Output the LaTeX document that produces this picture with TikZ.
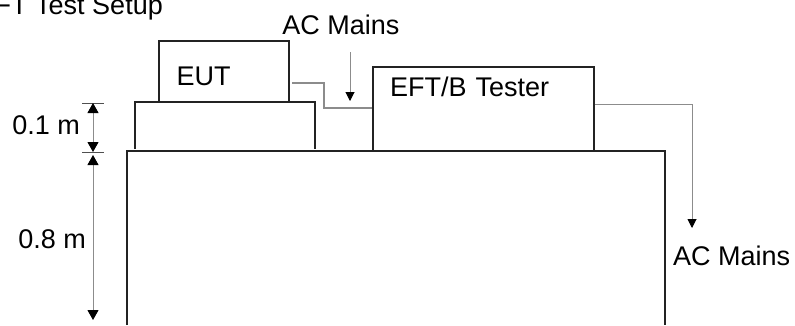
\documentclass[tikz,border=0pt]{standalone}
\usepackage{fontspec}
\setmainfont{Liberation Sans}
\usepackage{tikz}
\usetikzlibrary{arrows.meta}
\usepackage{xcolor}
\definecolor{cavo}{RGB}{140,140,140}
\definecolor{bordo}{RGB}{35,35,35}
\tikzset{
  testo/.style={inner sep=0pt, font=\fontsize{27}{32}\selectfont},
  scatola/.style={draw=bordo, line width=1.1pt, align=left, font=\fontsize{27}{32}\selectfont},
  cavo/.style={draw=cavo, line width=1.1pt},
  quota/.style={draw=cavo, line width=1pt, {Triangle[width=11pt,length=10pt,color=black]}-{Triangle[width=11pt,length=10pt,color=black]}},
  freccia/.style={draw=cavo, line width=1pt, -{Triangle[width=9pt,length=9pt,color=black]}}
}

\begin{document}
\begin{tikzpicture}[x=1pt, y=-1pt]
    % Riquadro
    \useasboundingbox (0,0) rectangle (795,325);
    % Titolo
    \node[testo, anchor=base east] (titolo) at (163,14) {EFT Test Setup};
    % Tavolo e supporto
    \draw[bordo, line width=1.1pt] (127,325) |- (665,151) -- (665,325);
    \draw[bordo, line width=1.1pt] (135,149) |- (315,102) -- (315,149);
    % Apparati
    \node[scatola, minimum width=130pt, minimum height=61pt, inner xsep=17.7pt,
          text width=94.6pt, text height=27pt, text depth=0pt] (eut) at (224,71.5) {EUT};
    \node[scatola, minimum width=221pt, minimum height=84pt, inner xsep=17pt,
          text width=187pt, text height=0pt, text depth=26pt] (tester) at (483.5,109) {EFT/B Tester};
    % Cavo EUT - tester
    \coordinate (porta) at (292,83);
    \draw[cavo] (porta) -| (324,108) -- (tester.west |- 0,108);
    % Rete in ingresso
    \node[testo, anchor=base] (retein) at (341,34) {AC Mains};
    \coordinate (ingresso) at (350,101);
    \draw[freccia, shorten <=18pt] (retein.south -| ingresso) -- (ingresso);
    % Rete in uscita
    \node[testo, anchor=base west] (reteout) at (673,265) {AC Mains};
    \coordinate (uscita) at (692,228);
    \draw[freccia] (tester.east |- 0,104) -| (uscita);
    % Quote
    \draw[bordo!80, line width=1pt] (82,103) -- (104,103) (82,152) -- (104,152);
    \coordinate (q1) at (93,103);
    \coordinate (q2) at (93,152);
    \coordinate (q3) at (93,320);
    \draw[quota] (q1) -- (q2);
    \draw[quota, shorten <=3pt] (q2) -- (q3);
    \node[testo, anchor=base east] (dieci) at (80,134) {0.1 m};
    \node[testo, anchor=base east] (ottanta) at (86,248) {0.8 m};
\end{tikzpicture}
\end{document}
